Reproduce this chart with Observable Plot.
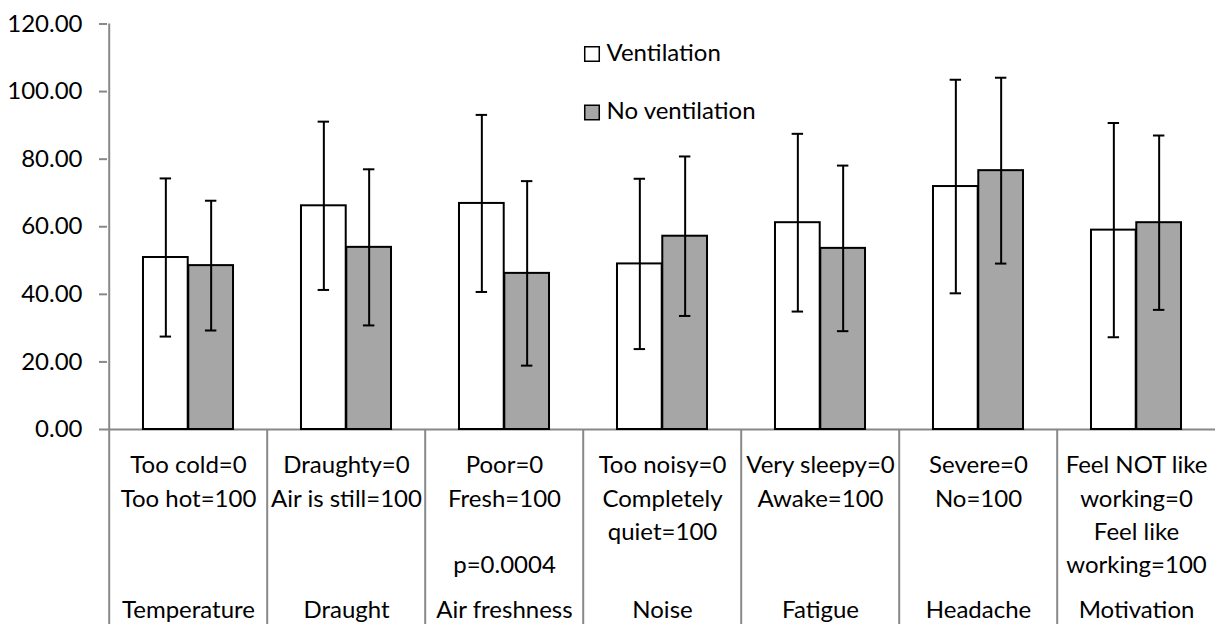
<!DOCTYPE html>
<html>
<head>
<meta charset="utf-8">
<script src="https://cdn.jsdelivr.net/npm/d3@7"></script>
<script src="https://cdn.jsdelivr.net/npm/@observablehq/plot@0.6"></script>
<style>
  html, body { margin: 0; padding: 0; background: #fff; overflow: hidden; }
  #chart { width: 1215px; height: 624px; }
</style>
</head>
<body>
<div id="chart"></div>
<script>
// ---- data ----
const categories = ["Temperature", "Draught", "Air freshness", "Noise", "Fatigue", "Headache", "Motivation"];
const scaleLabels = [
  "Too cold=0\nToo hot=100",
  "Draughty=0\nAir is still=100",
  "Poor=0\nFresh=100",
  "Too noisy=0\nCompletely\nquiet=100",
  "Very sleepy=0\nAwake=100",
  "Severe=0\nNo=100",
  "Feel NOT like\nworking=0\nFeel like\nworking=100"
];
const series = ["Ventilation", "No ventilation"];
const ventMean   = [50.9, 66.2, 66.9, 49.0, 61.2, 71.9, 59.0];
const ventSD     = [23.4, 24.9, 26.2, 25.2, 26.3, 31.6, 31.7];
const noVentMean = [48.5, 53.9, 46.2, 57.2, 53.6, 76.6, 61.2];
const noVentSD   = [19.2, 23.1, 27.3, 23.6, 24.5, 27.5, 25.8];
const notes = [{category: "Air freshness", text: "p=0.0004"}];
const yTicks = [0, 20, 40, 60, 80, 100, 120];

// ---- table built from the arrays ----
const rows = [];
categories.forEach((c, i) => {
  rows.push({category: c, series: series[0], mean: ventMean[i], lo: ventMean[i] - ventSD[i], hi: ventMean[i] + ventSD[i]});
  rows.push({category: c, series: series[1], mean: noVentMean[i], lo: noVentMean[i] - noVentSD[i], hi: noVentMean[i] + noVentSD[i]});
});
const labelRows = categories.map((c, i) => ({category: c, label: scaleLabels[i]}));

// ---- layout / style ----
const W = 1215, H = 624;
const padL = 107, xEnd = 1217, padT = 23.5, yBase = 429;
const step = (xEnd - padL) / categories.length;
const barW = 45.3;
const outer = (step - 2 * barW) / 2;
const capW = 12;
const gray = "#888888";
const fills = {"Ventilation": "#ffffff", "No ventilation": "#a6a6a6"};
const font = "Lato, 'Open Sans', sans-serif";

const marks = [];
// x baseline
marks.push(Plot.ruleY([0], {stroke: gray, strokeWidth: 2}));
// y axis line (continues as first separator)
marks.push(Plot.ruleX([categories[0]], {y1: 0, y2: 120, dx: -step / 2, stroke: gray, strokeWidth: 2}));
// category separators below the axis
marks.push(Plot.axisX({tickSize: H - yBase, tickFormat: () => "", dx: -step / 2, stroke: gray, strokeWidth: 2, label: null}));
// y axis
marks.push(Plot.axisY({ticks: yTicks, tickFormat: d3.format(".2f"), tickSize: 8, tickPadding: 17, stroke: gray, strokeWidth: 2, fill: "#000", fontSize: 24, label: null}));

series.forEach((s, k) => {
  const data = rows.filter(d => d.series === s);
  const inL = outer + k * barW;
  const inR = step - inL - barW;
  marks.push(Plot.barY(data, {x: "category", y: "mean", fill: fills[s], stroke: "#000", strokeWidth: 2, insetLeft: inL, insetRight: inR}));
  const off = (k === 0 ? -1 : 1) * barW / 2;
  marks.push(Plot.ruleX(data, {x: "category", y1: "lo", y2: "hi", dx: off, stroke: "#000", strokeWidth: 2}));
  const cL = inL + (barW - capW) / 2;
  const cR = step - cL - capW;
  marks.push(Plot.tickY(data, {x: "category", y: "hi", insetLeft: cL, insetRight: cR, stroke: "#000", strokeWidth: 2}));
  marks.push(Plot.tickY(data, {x: "category", y: "lo", insetLeft: cL, insetRight: cR, stroke: "#000", strokeWidth: 2}));
  // legend
  marks.push(Plot.dot([s], {frameAnchor: "top-left", dx: 591.5 - padL, dy: 53.5 - padT + k * 58.6, symbol: "square", r: 8.2, fill: fills[s], stroke: "#000", strokeWidth: 1.5}));
  marks.push(Plot.text([s], {frameAnchor: "top-left", dx: 606 - padL, dy: 60 - padT + k * 58.6, text: d => d, textAnchor: "start", lineAnchor: "bottom", fontSize: 24, fill: "#000"}));
});

// scale descriptions under each category
marks.push(Plot.text(labelRows, {x: "category", text: "label", frameAnchor: "bottom", lineAnchor: "top", dy: 20.1, lineHeight: 1.3875, fontSize: 24, fill: "#000"}));
// p-value note
marks.push(Plot.text(notes, {x: "category", text: "text", frameAnchor: "bottom", lineAnchor: "bottom", dy: 143.7, fontSize: 24, fill: "#000"}));
// category names
marks.push(Plot.text(categories, {x: d => d, text: d => d, frameAnchor: "bottom", lineAnchor: "bottom", dy: 188, fontSize: 24, fill: "#000"}));

const chart = Plot.plot({
  width: W,
  height: H,
  marginLeft: padL,
  marginRight: 0,
  marginTop: padT,
  marginBottom: H - yBase,
  style: {fontFamily: font, fontSize: "24px", color: "#000", background: "#fff"},
  x: {domain: categories, range: [padL, xEnd], padding: 0},
  y: {domain: [0, 120], range: [yBase, padT]},
  marks
});
document.getElementById("chart").appendChild(chart);
</script>
</body>
</html>
